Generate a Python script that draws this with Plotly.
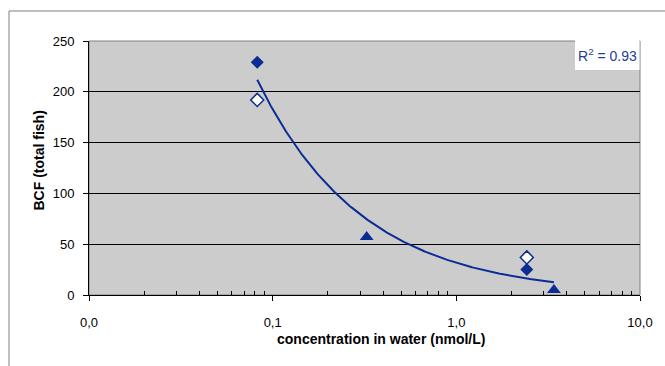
import numpy as np
import plotly.graph_objects as go

# ---- data ----
filled_x = [0.0824, 2.42]
filled_y = [229, 25]
open_x = [0.0824, 2.42]
open_y = [192, 37]
tri_x = [0.325, 3.40]
tri_y = [57, 5]

# power trendline y = a * x^b (as drawn in the reference), R^2 label
trend_a = 31.7
trend_b = -0.761
trend_x_range = [0.0824, 3.40]
r2_text = "R<sup>2</sup> = 0.93"

x_tickvals = [0.01, 0.1, 1, 10]
x_ticktext = ["0,0", "0,1", "1,0", "10,0"]
y_tickvals = [0, 50, 100, 150, 200, 250]
x_minor = [m * d for d in (0.01, 0.1, 1) for m in range(2, 10)]

x_title = "concentration in water (nmol/L)"
y_title = "BCF (total fish)"

BLUE = "#0B2C94"
FONT = "Liberation Sans, Arial, sans-serif"

tx = np.logspace(np.log10(trend_x_range[0]), np.log10(trend_x_range[1]), 200)
ty = trend_a * tx ** trend_b

fig = go.Figure()
fig.add_trace(go.Scatter(x=tx, y=ty, mode="lines",
                         line=dict(color=BLUE, width=2), hoverinfo="skip"))
fig.add_trace(go.Scatter(x=filled_x, y=filled_y, mode="markers",
                         marker=dict(symbol="diamond", size=10, color=BLUE,
                                     line=dict(width=0))))
fig.add_trace(go.Scatter(x=open_x, y=open_y, mode="markers",
                         marker=dict(symbol="diamond", size=10, color="white",
                                     line=dict(color=BLUE, width=1.5))))
fig.add_trace(go.Scatter(x=tri_x, y=tri_y, mode="markers",
                         marker=dict(symbol="triangle-up", size=12, color=BLUE,
                                     line=dict(width=0))))

W, H = 665, 366
L, R, T, B = 89, 25, 41, 71
pw, ph = W - L - R, H - T - B

def px(xp):
    return (xp - L) / pw

def py(yp):
    return (H - B - yp) / ph

fig.update_layout(
    width=W, height=H,
    margin=dict(l=L, r=R, t=T, b=B, pad=0),
    paper_bgcolor="white",
    plot_bgcolor="#CCCCCC",
    showlegend=False,
    font=dict(family=FONT, size=13, color="black"),
    xaxis=dict(
        type="log", range=[-2, 1],
        tickmode="array", tickvals=x_tickvals, ticktext=x_ticktext,
        ticks="outside", ticklen=5, tickcolor="black", tickwidth=1,
        ticklabelstandoff=10,
        showgrid=False, zeroline=False,
        showline=True, linecolor="black", linewidth=1,
        minor=dict(tickmode="array", tickvals=x_minor, ticks="inside",
                   ticklen=4, tickcolor="black", showgrid=False),
        tickfont=dict(size=13),
    ),
    yaxis=dict(
        range=[0, 250],
        tickmode="array", tickvals=y_tickvals,
        ticks="outside", ticklen=5, tickcolor="black", tickwidth=1,
        ticklabelstandoff=6,
        showgrid=True, gridcolor="black", gridwidth=1,
        zeroline=False,
        showline=True, linecolor="black", linewidth=1,
        tickfont=dict(size=13),
    ),
    shapes=[
        # outer chart border
        dict(type="rect", xref="paper", yref="paper",
             x0=px(9), x1=px(700), y0=py(400), y1=py(11),
             line=dict(color="#808080", width=1), fillcolor="rgba(0,0,0,0)",
             layer="below"),
        # plot area border (gray)
        dict(type="rect", xref="paper", yref="paper",
             x0=0, x1=1, y0=0, y1=1,
             line=dict(color="#808080", width=1), fillcolor="rgba(0,0,0,0)",
             layer="between"),
        # white box behind R^2 label
        dict(type="rect", xref="paper", yref="paper",
             x0=px(575), x1=px(639.5), y0=py(70), y1=py(40),
             line=dict(width=0), fillcolor="white", layer="above"),
    ],
    annotations=[
        dict(text=r2_text, xref="paper", yref="paper", x=px(576), y=py(55),
             xanchor="left", yanchor="middle", showarrow=False,
             font=dict(family=FONT, size=14, color="#1F3A9E")),
        dict(text="<b>%s</b>" % x_title, xref="paper", yref="paper",
             x=px(381), y=py(339), xanchor="center", yanchor="middle",
             showarrow=False, font=dict(family=FONT, size=14, color="black")),
        dict(text="<b>%s</b>" % y_title, xref="paper", yref="paper",
             x=px(38.5), y=py(161), xanchor="center", yanchor="middle",
             textangle=-90, showarrow=False,
             font=dict(family=FONT, size=14, color="black")),
    ],
)

fig.write_html(
    "out.html",
    config={"displayModeBar": False},
    post_script="document.body.style.margin='0';document.body.style.overflow='hidden';",
)
